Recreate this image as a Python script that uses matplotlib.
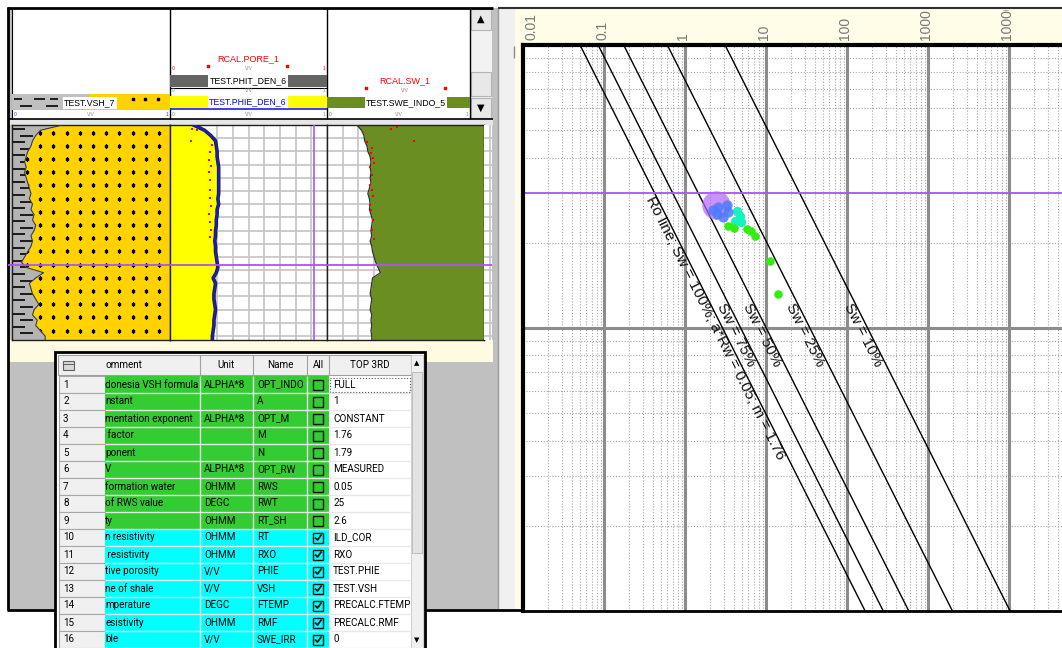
import numpy as np
import matplotlib.pyplot as plt
from matplotlib.patches import Rectangle
from matplotlib.collections import LineCollection
from matplotlib.transforms import Bbox

plt.rcParams['font.family'] = ['Liberation Sans', 'DejaVu Sans']

W, H = 1062, 648

# Archie parameters, also listed in the parameter table
A_CONST = 1.0
RW = 0.05
M_EXP = 1.76
N_EXP = 1.79
SW_LINES = [1.0, 0.75, 0.5, 0.25, 0.1]
SW_LABELS = ['Ro line; Sw = 100%; a*Rw = 0.05; m = 1.76',
             'Sw = 75%', 'Sw = 50%', 'Sw = 25%', 'Sw = 10%']
LABEL_PHI = [0.296, 0.125, 0.125, 0.125, 0.125]
X_DECADES = [0.01, 0.1, 1, 10, 100, 1000, 10000]
X_DECADE_LABELS = ['0.01', '0.1', '1', '10', '100', '1000', '10000']

# picked porosity (cursor) on the crossplot
PICK_PHI = 0.30

# crossplot points: Rt (ohmm) vs PHIE (v/v), grouped by colour
BIG_RT, BIG_PHI = [2.39], [0.273]
BLUE_RT = [2.19, 2.52, 3.25, 3.34, 2.93, 2.45]
BLUE_PHI = [0.262, 0.267, 0.271, 0.256, 0.246, 0.252]
CYAN_RT = [4.33, 4.67, 4.09, 4.81]
CYAN_PHI = [0.260, 0.249, 0.238, 0.236]
GREEN_RT = [3.34, 3.93, 5.76, 6.45, 7.33, 11.1, 13.9]
GREEN_PHI = [0.229, 0.226, 0.224, 0.221, 0.211, 0.172, 0.132]

# log curves
TOP_DEPTH, BASE_DEPTH = 2300.0, 2316.3
CURSOR_DEPTH = 2310.6
CURSOR_PHI_X = 0.917
DEPTH = np.round(np.arange(2300.0, 2316.5, 0.4), 1)
VSH = [0.32, 0.18, 0.15, 0.13, 0.12, 0.10, 0.09, 0.08, 0.09, 0.08, 0.09,
       0.10, 0.11, 0.12, 0.11, 0.13, 0.12, 0.14, 0.13, 0.15, 0.14, 0.12,
       0.13, 0.12, 0.10, 0.08, 0.06, 0.09, 0.20, 0.15, 0.11, 0.12, 0.13,
       0.15, 0.17, 0.14, 0.13, 0.16, 0.15, 0.18, 0.21, 0.21]
PHIE = [0.15, 0.22, 0.26, 0.29, 0.295, 0.30, 0.30, 0.305, 0.31, 0.31, 0.31,
        0.31, 0.31, 0.31, 0.305, 0.31, 0.30, 0.30, 0.295, 0.295, 0.29, 0.29,
        0.285, 0.29, 0.29, 0.295, 0.30, 0.305, 0.295, 0.275, 0.29, 0.285,
        0.28, 0.28, 0.285, 0.29, 0.285, 0.28, 0.28, 0.275, 0.27, 0.27]
SWE = [0.19, 0.22, 0.235, 0.24, 0.255, 0.26, 0.275, 0.28, 0.275, 0.28, 0.275,
       0.28, 0.27, 0.26, 0.27, 0.275, 0.27, 0.28, 0.29, 0.285, 0.28, 0.285,
       0.275, 0.285, 0.29, 0.30, 0.31, 0.325, 0.34, 0.29, 0.285, 0.28, 0.275,
       0.285, 0.28, 0.275, 0.285, 0.28, 0.285, 0.28, 0.285, 0.285]
CORE_PORE_DEPTH = [2300.30, 2300.38, 2301.21, 2301.52, 2302.05, 2302.65, 2303.11,
                   2303.56, 2304.17, 2304.92, 2305.53, 2306.14, 2306.74, 2307.35,
                   2307.95, 2308.48]
CORE_PORE = [0.14, 0.17, 0.134, 0.268, 0.255, 0.248, 0.261, 0.248, 0.255, 0.255,
             0.255, 0.261, 0.248, 0.255, 0.261, 0.255]
CORE_SW_DEPTH = [2300.33, 2300.18, 2301.21, 2301.29, 2301.74, 2302.12, 2302.50,
                 2302.88, 2303.18, 2303.79, 2304.55, 2304.92, 2305.38, 2306.06,
                 2306.44, 2307.20, 2307.95, 2308.64]
CORE_SW = [0.408, 0.446, 0.554, 0.255, 0.287, 0.280, 0.293, 0.299, 0.274, 0.287,
           0.274, 0.287, 0.293, 0.274, 0.280, 0.293, 0.287, 0.299]

# parameter table
ROW_COMMENT = ['donesia VSH formula', 'nstant', 'mentation exponent', ' factor',
               'ponent', 'V', 'formation water', 'of RWS value', 'ty',
               'n resistivity', ' resistivity', 'tive porosity', 'ne of shale',
               'mperature', 'esistivity', 'ble']
ROW_UNIT = ['ALPHA*8', '', 'ALPHA*8', '', '', 'ALPHA*8', 'OHMM', 'DEGC', 'OHMM',
            'OHMM', 'OHMM', 'V/V', 'V/V', 'DEGC', 'OHMM', 'V/V']
ROW_NAME = ['OPT_INDO', 'A', 'OPT_M', 'M', 'N', 'OPT_RW', 'RWS', 'RWT', 'RT_SH',
            'RT', 'RXO', 'PHIE', 'VSH', 'FTEMP', 'RMF', 'SWE_IRR']
ROW_ALL = [False] * 9 + [True] * 7
ROW_VALUE = ['FULL', f'{A_CONST:g}', 'CONSTANT', f'{M_EXP:g}', f'{N_EXP:g}',
             'MEASURED', f'{RW:g}', '25', '2.6', 'ILD_COR', 'RXO', 'TEST.PHIE',
             'TEST.VSH', 'PRECALC.FTEMP', 'PRECALC.RMF', '0']
ROW_GROUP = ['green'] * 9 + ['cyan'] * 7

GREEN = '#33cc33'
CYAN = '#00ffff'
SAND = '#ffd200'
OLIVE = '#6b8e23'
PURPLE = '#a855f7'

fig = plt.figure(figsize=(W / 100, H / 100), dpi=100)
fig.patch.set_facecolor('white')


def px_axes(x0, y0, x1, y1, z=1):
    return fig.add_axes([x0 / W, 1 - y1 / H, (x1 - x0) / W, (y1 - y0) / H], zorder=z)


def rect(ax, x0, y0, x1, y1, fc, ec='none', lw=0, z=1, **kw):
    ax.add_patch(Rectangle((x0, y0), x1 - x0, y1 - y0, facecolor=fc,
                           edgecolor=ec, linewidth=lw, zorder=z, **kw))


def seg(ax, xs, ys, color='black', lw=1, z=2, **kw):
    ax.plot(xs, ys, color=color, lw=lw, zorder=z, solid_capstyle='butt', **kw)


# ---- window furniture --------------------------------------------------
bg = px_axes(0, 0, W, H, z=0)
bg.set_xlim(0, W)
bg.set_ylim(H, 0)
bg.axis('off')

rect(bg, 8, 8, 498, 609, '#c0c0c0')
rect(bg, 12, 8, 470, 119, 'white')
rect(bg, 8, 119, 493, 125, '#e6e6e6')
rect(bg, 8, 340, 493, 362, '#fffbe2')
rect(bg, 498, 8, 515, 609, '#f0f0f0')
seg(bg, [498, 498], [8, 609], '#9a9a9a', 1)
rect(bg, 515, 9, W, 44, '#fffde8')
rect(bg, 515, 44, 523, 609, '#fffde8')
seg(bg, [514, 514], [46, 58], '#8a8a8a', 1)

seg(bg, [8, 8], [7, 610], 'black', 2)
seg(bg, [12, 12], [8, 119], 'black', 0.8)
seg(bg, [7, 493], [8, 8], 'black', 2)
seg(bg, [498, W], [8, 8], '#303030', 1.5)
seg(bg, [7, W], [609.5, 609.5], 'black', 2)
seg(bg, [8, 493], [119, 119], 'black', 1.2)

# header scrollbar of the log panel
rect(bg, 470, 8, 492, 119, '#f2f2f2')
rect(bg, 471, 9, 491, 30, '#e8e8e8', ec='#b4b4b4', lw=0.8)
rect(bg, 471, 72, 491, 96, '#e8e8e8', ec='#b4b4b4', lw=0.8)
rect(bg, 471, 98, 491, 118, '#e8e8e8', ec='#b4b4b4', lw=0.8)
bg.text(481, 19, '▲', fontsize=7, ha='center', va='center', family='DejaVu Sans')
bg.text(481, 108, '▼', fontsize=7, ha='center', va='center', family='DejaVu Sans')

for x in (170, 327, 470):
    seg(bg, [x, x], [8, 119], 'black', 1)


def curve_label(x, y, s, color='black'):
    bg.text(x, y, s, fontsize=6.3, color=color, ha='center', va='center', zorder=4,
            bbox=dict(boxstyle='square,pad=0.12', fc='white', ec='none'))


def scale_row(x0, x1, y, color='#8c8c8c'):
    bg.text(x0 + 2, y, '0', fontsize=3.5, color=color, ha='left', va='center')
    bg.text((x0 + x1) / 2, y, 'V/V', fontsize=3.5, color='#8c8c8c', ha='center', va='center')
    bg.text(x1 - 2, y, '1', fontsize=3.5, color=color, ha='right', va='center')


# track 1 header: shale / sand fill legend
rect(bg, 12, 94, 90, 110, '#c0c0c0', z=2)
rect(bg, 90, 94, 170, 110, SAND, z=2)
for xs, y in (([14, 22], 98.5), ([34, 45], 98.5), ([50, 58], 98.5),
              ([20, 32], 106), ([46, 58], 106)):
    seg(bg, xs, [y, y], 'black', 1.2, z=3)
bg.scatter([133, 145, 158], [99, 99, 99], s=4, marker='s', color='black', zorder=3)
curve_label(90, 103, 'TEST.VSH_7')
scale_row(12, 170, 114, '#4040c0')

# track 2 header
bg.text(248, 59, 'RCAL.PORE_1', fontsize=6.5, color='red', ha='center', va='center')
bg.scatter([208, 287], [66, 66], s=3, marker='s', color='red', zorder=3)
scale_row(170, 327, 69, 'red')
rect(bg, 170, 75, 327, 87, '#646464', z=2)
curve_label(248, 81, 'TEST.PHIT_DEN_6')
seg(bg, [170, 327], [87.5, 87.5], 'black', 0.8)
scale_row(170, 327, 91)
rect(bg, 170, 96, 327, 108, '#ffff00', z=2)
curve_label(248, 102, 'TEST.PHIE_DEN_6', color='#0000ff')
seg(bg, [170, 327], [109, 109], '#2020e0', 1.2)
scale_row(170, 327, 114)

# track 3 header
bg.text(405, 81, 'RCAL.SW_1', fontsize=6.5, color='red', ha='center', va='center')
bg.scatter([366, 445], [88, 88], s=3, marker='s', color='red', zorder=3)
bg.text(405, 91, 'V/V', fontsize=3.5, color='#e06060', ha='center', va='center')
rect(bg, 327, 97, 470, 108, OLIVE, z=2)
curve_label(406, 103, 'TEST.SWE_INDO_5')
scale_row(327, 470, 114)


# ---- log tracks ---------------------------------------------------------
def track_axes(x0, x1):
    ax = px_axes(x0, 125, x1, 340, z=1)
    ax.set_xlim(0, 1)
    ax.set_ylim(BASE_DEPTH, TOP_DEPTH)
    ax.set_xticks([])
    ax.set_yticks([])
    for s in ax.spines.values():
        s.set_linewidth(1)
        s.set_color('#202020')
    return ax


def add_grid(ax, vertical=True):
    if vertical:
        for v in np.arange(0.1, 0.95, 0.1):
            ax.axvline(v, color='#c4c4c4', lw=1.2, zorder=0.5)
    for d in np.arange(TOP_DEPTH + 1, BASE_DEPTH, 1.0):
        ax.axhline(d, color='#c4c4c4', lw=1.2, zorder=0.5)


t1 = track_axes(12, 170)
shale = t1.fill_betweenx(DEPTH, 0, VSH, color='#b4b4b4', lw=0, zorder=1)
sand = t1.fill_betweenx(DEPTH, VSH, 1, color=SAND, lw=0, zorder=1)
dash_rows = np.arange(TOP_DEPTH + 0.3, BASE_DEPTH, 0.5)
dashes = [[(0.0, d), (0.08, d)] if i % 2 == 0 else [(0.05, d), (0.13, d)]
          for i, d in enumerate(dash_rows)]
dash_lc = LineCollection(dashes, colors='black', linewidths=1.2, zorder=2)
t1.add_collection(dash_lc)
dash_lc.set_clip_path(shale.get_paths()[0], t1.transData)
dot_x, dot_y = np.meshgrid(np.arange(0.012, 1.0, 0.0835),
                           np.arange(TOP_DEPTH + 0.58, BASE_DEPTH, 1.0))
dots = t1.scatter(dot_x.ravel(), dot_y.ravel(), s=4, marker='s', color='black', zorder=2)
dots.set_clip_path(sand.get_paths()[0], t1.transData)
t1.plot(VSH, DEPTH, color='#3a3a3a', lw=0.8, zorder=3)

t2 = track_axes(170, 327)
add_grid(t2)
t2.fill_betweenx(DEPTH, 0, PHIE, color='#ffff00', lw=0, zorder=2)
t2.plot(PHIE, DEPTH, color='#202020', lw=2.6, zorder=3)
t2.plot(PHIE, DEPTH, color='#1a1ad0', lw=1.5, zorder=3)
t2.plot(CORE_PORE, CORE_PORE_DEPTH, 's', color='red', ms=1.8, mew=0, zorder=4)
t2.axvline(CURSOR_PHI_X, color=PURPLE, lw=1.2, zorder=5)

t3 = track_axes(327, 484)
add_grid(t3)
t3.fill_betweenx(DEPTH, SWE, 1, color=OLIVE, lw=0, zorder=2)
t3.plot(SWE, DEPTH, color='#303030', lw=0.9, zorder=3)
t3.plot(CORE_SW, CORE_SW_DEPTH, 's', color='red', ms=1.8, mew=0, zorder=4)

t4 = track_axes(484, 492)
add_grid(t4, vertical=False)
t4.axvline(0.8, color='#c4c4c4', lw=1.2, zorder=0.5)
for s in t4.spines.values():
    s.set_visible(False)

for t in (t1, t2, t3, t4):
    t.axhline(CURSOR_DEPTH, color=PURPLE, lw=1.3, zorder=6)
cursor_y = H - t1.transData.transform((0, CURSOR_DEPTH))[1]
seg(bg, [8, 12], [cursor_y, cursor_y], PURPLE, 1.3, z=3)

# ---- Pickett crossplot -----------------------------------------------
pk = px_axes(523.4, 45, 1090.4, 611, z=1)
pk.set_xscale('log')
pk.set_yscale('log')
pk.set_xlim(0.01, 1e5)
pk.set_ylim(0.01, 1)
pk.tick_params(which='both', length=0, labelleft=False, labelbottom=False)
for side, lw in (('left', 3), ('top', 3), ('bottom', 2), ('right', 2)):
    pk.spines[side].set_linewidth(lw)
    pk.spines[side].set_color('black')

for e in range(-2, 5):
    for k in range(2, 10):
        pk.axvline(k * 10.0 ** e, color='#a6a6a6', lw=0.8, ls=(0, (1, 1.6)), zorder=0.5)
    if e > -2:
        pk.axvline(10.0 ** e, color='#8c8c8c', lw=2.2, zorder=0.6)
for e in (-2, -1):
    for k in range(2, 10):
        pk.axhline(k * 10.0 ** e, color='#a6a6a6', lw=0.8, ls=(0, (1, 1.6)), zorder=0.5)
pk.axhline(0.1, color='#8c8c8c', lw=2.2, zorder=0.6)


def archie_rt(phi, sw):
    return A_CONST * RW / (np.asarray(phi) ** M_EXP * sw ** N_EXP)


phi_ends = np.array([0.01, 1.0])
for sw in SW_LINES:
    pk.plot(archie_rt(phi_ends, sw), phi_ends, color='black', lw=1, zorder=2)

p0 = pk.transData.transform((archie_rt(1.0, 1.0), 1.0))
p1 = pk.transData.transform((archie_rt(0.01, 1.0), 0.01))
angle = np.degrees(np.arctan2(p1[1] - p0[1], p1[0] - p0[0]))
for sw, label, lphi in zip(SW_LINES, SW_LABELS, LABEL_PHI):
    pk.text(archie_rt(lphi, sw), lphi, label, rotation=angle, rotation_mode='anchor',
            ha='left', va='top', fontsize=11, color='#111111', zorder=3, clip_on=True)

pk.axhline(PICK_PHI, color=PURPLE, lw=1.3, zorder=2.5)
pk.scatter(BIG_RT, BIG_PHI, s=420, color='#b366ff', alpha=0.7, lw=0, zorder=4)
pk.scatter(BLUE_RT, BLUE_PHI, s=55, color='#4d7cff', alpha=0.85, lw=0, zorder=5)
pk.scatter(CYAN_RT, CYAN_PHI, s=45, color='#19f2c0', lw=0, zorder=4.5)
pk.scatter(GREEN_RT, GREEN_PHI, s=38, color='#33ee11', lw=0, zorder=4.5)

# decade labels in the header strip, cut off where the strip ends
head_clip = Bbox.from_extents(515, H - 44, W, H - 10)
for v, lab in zip(X_DECADES, X_DECADE_LABELS):
    xp = pk.transData.transform((v, 1.0))[0]
    xp = max(xp - 2, 531)
    t = bg.text(xp, 40, lab, rotation=90, ha='center', va='bottom', fontsize=10,
                color='#777777', zorder=3)
    t.set_clip_path(None)
    t.set_clip_box(head_clip)
    t.set_clip_on(True)

# ---- parameter table --------------------------------------------------
ui = px_axes(0, 0, W, H, z=5)
ui.set_xlim(0, W)
ui.set_ylim(H, 0)
ui.axis('off')

TF = dict(family=['Roboto', 'DejaVu Sans'], fontsize=7.1, color='black', va='center')
rect(ui, 55, 352, 425, 652, 'white', ec='black', lw=2)
rect(ui, 58, 355, 411, 375, '#f0f0f0', ec='#a0a0a0', lw=0.8)
for x in (200, 253, 307, 329):
    seg(ui, [x, x], [355, 375], '#a0a0a0', 0.8)
rect(ui, 63, 361, 74, 370, '#d8d8d8', ec='#606060', lw=0.8, z=2)
seg(ui, [63, 74], [364, 364], '#606060', 0.7, z=3)
ui.text(106, 365, 'omment', ha='left', **TF)
ui.text(226, 365, 'Unit', ha='center', **TF)
ui.text(280, 365, 'Name', ha='center', **TF)
ui.text(318, 365, 'All', ha='center', **TF)
ui.text(370, 365, 'TOP 3RD', ha='center', **TF)

rect(ui, 411, 355, 423, 650, '#f0f0f0', ec='#c8c8c8', lw=0.6)
rect(ui, 412, 372, 422, 553, '#e2e2e2', ec='#b8b8b8', lw=0.6, z=2)
ui.text(417, 363, '▲', fontsize=5, ha='center', va='center', family='DejaVu Sans')
ui.text(417, 640, '▼', fontsize=5, ha='center', va='center', family='DejaVu Sans')

for i in range(len(ROW_NAME)):
    top = 376 + 17 * i
    mid = top + 8.5
    fill = GREEN if ROW_GROUP[i] == 'green' else CYAN
    rect(ui, 59, top, 105, top + 17, '#f0f0f0', ec='#a8a8a8', lw=0.8)
    rect(ui, 105, top, 329, top + 17, fill)
    for x in (200, 253, 307):
        seg(ui, [x, x], [top, top + 17], '#e8e8e8', 1, z=2)
    seg(ui, [105, 411], [top + 17, top + 17], '#e8e8e8', 1, z=2)
    ui.text(63, mid, str(i + 1), ha='left', **TF)
    ui.text(105, mid, ROW_COMMENT[i], ha='left', **TF)
    ui.text(204, mid, ROW_UNIT[i], ha='left', **TF)
    ui.text(257, mid, ROW_NAME[i], ha='left', **TF)
    rect(ui, 313, top + 3.5, 323, top + 13.5, 'none', ec='#141414', lw=1, z=3)
    if ROW_ALL[i]:
        seg(ui, [315, 317.5, 321.5], [mid, mid + 2.5, mid - 3], '#141414', 1.3, z=4)
    ui.text(333, mid, ROW_VALUE[i], ha='left', **TF)
rect(ui, 330, 377.5, 410, 392, 'none', ec='#555555', lw=0.8, ls=':', z=3)

plt.savefig('out.png', dpi=100)
plt.close()
